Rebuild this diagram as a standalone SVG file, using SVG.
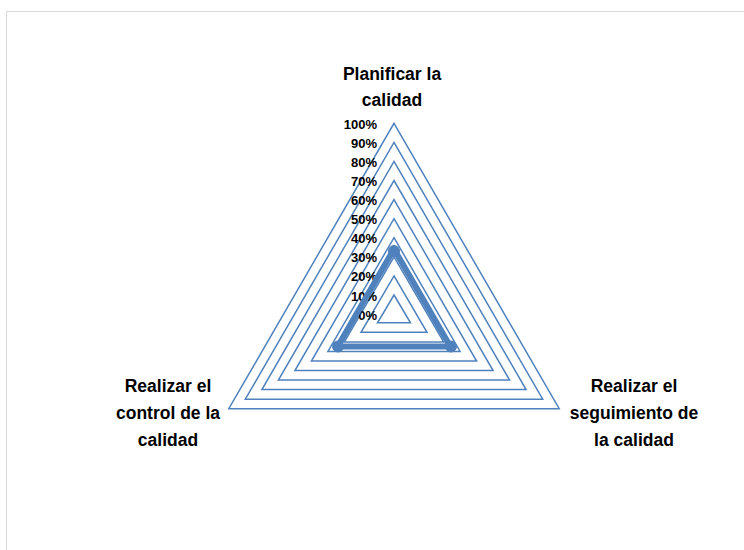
<svg xmlns="http://www.w3.org/2000/svg" width="744" height="550" viewBox="0 0 744 550">
<style>
.grid{fill:none;stroke:#4F81BD;stroke-width:1.5;stroke-linejoin:miter}
.cat{font-family:"Liberation Sans",Arial,sans-serif;font-weight:bold;font-size:17.5px;fill:#000;text-anchor:middle}
.ax{font-family:"Liberation Sans",Arial,sans-serif;font-weight:bold;font-size:13px;fill:#000;text-anchor:end}
.series{fill:none;stroke:#4F81BD;stroke-width:6;stroke-linejoin:round}
.mk{fill:#4F81BD;stroke:#4F81BD}
</style>
<rect x="0" y="0" width="744" height="550" fill="#fff"/>
<rect x="6.5" y="11.5" width="800" height="600" fill="#fff" stroke="#d9d9d9" stroke-width="1"/>
<g id="grid">
<polygon class="grid" points="394,123.3 559.2,408.7 228.8,408.7"/>
<polygon class="grid" points="394,142.4 542.7,399.2 245.3,399.2"/>
<polygon class="grid" points="394,161.4 526.1,389.6 261.9,389.6"/>
<polygon class="grid" points="394,180.5 509.6,380.1 278.4,380.1"/>
<polygon class="grid" points="394,199.6 493.1,370.6 294.9,370.6"/>
<polygon class="grid" points="394,218.7 476.6,361.0 311.4,361.0"/>
<polygon class="grid" points="394,237.7 460.1,351.4 327.9,351.4"/>
<polygon class="grid" points="394,256.8 443.6,341.9 344.4,341.9"/>
<polygon class="grid" points="394,275.9 427.0,332.3 361.0,332.3"/>
<polygon class="grid" points="394,295.0 410.5,322.8 377.5,322.8"/>
</g>
<g id="axis-labels">
<text class="ax" x="377" y="129">100%</text>
<text class="ax" x="377" y="148">90%</text>
<text class="ax" x="377" y="167">80%</text>
<text class="ax" x="377" y="186">70%</text>
<text class="ax" x="377" y="205">60%</text>
<text class="ax" x="377" y="224">50%</text>
<text class="ax" x="377" y="243">40%</text>
<text class="ax" x="377" y="262">30%</text>
<text class="ax" x="377" y="281">20%</text>
<text class="ax" x="377" y="301">10%</text>
<text class="ax" x="377" y="320">0%</text>
</g>
<g id="series">
<polygon class="series" points="394,249 450.3,346.5 337.7,346.5"/>
<circle class="mk" cx="394" cy="251" r="5.5"/>
<circle class="mk" cx="451" cy="346.5" r="5.5"/>
<circle class="mk" cx="338" cy="346.5" r="5.5"/>
</g>
<g id="cat-top">
<text class="cat" x="392" y="80">Planificar la</text>
<text class="cat" x="392" y="106">calidad</text>
</g>
<g id="cat-left">
<text class="cat" x="168" y="392">Realizar el</text>
<text class="cat" x="168" y="419">control de la</text>
<text class="cat" x="168" y="446">calidad</text>
</g>
<g id="cat-right">
<text class="cat" x="634" y="392">Realizar el</text>
<text class="cat" x="634" y="419">seguimiento de</text>
<text class="cat" x="634" y="446">la calidad</text>
</g>
</svg>
